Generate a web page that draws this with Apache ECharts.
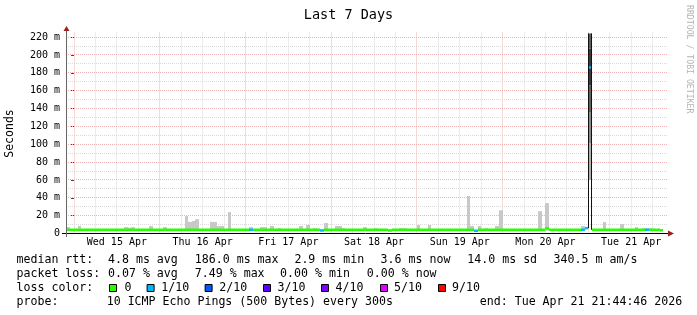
<!DOCTYPE html>
<html><head><meta charset="utf-8">
<script src="https://cdn.jsdelivr.net/npm/echarts@6/dist/echarts.min.js"></script>
<style>html,body{margin:0;padding:0;background:#fff}#c{width:697px;height:315px}</style>
</head><body><div id="c"></div>
<script>
// ---- data (hours are relative to Wed 15 Apr 00:00) ----
var dayLabels = ['Wed 15 Apr','Thu 16 Apr','Fri 17 Apr','Sat 18 Apr','Sun 19 Apr','Mon 20 Apr','Tue 21 Apr'];
var dayLabelHours = [12,36,60,84,108,132,156];
var yTickValues = [0,20,40,60,80,100,120,140,160,180,200,220];
var dayLines = [0,24,48,72,96,120,144];
var sixHourLines = [6,12,18,30,36,42,54,60,66,78,84,90,102,108,114,126,132,138,150,156,162];
var yMajorLines = [20,40,60,80,100,120,140,160,180,200,220];
var yMinorLines = [10,30,50,70,90,110,130,150,170,190,210];
var firstHour = -2;
// median rtt (ms), one value per hour from Tue 14 22:00 to Tue 21 20:00
var medianRtt = [
  4.2,4.2,
  4.2,4.2,4.2,4.2,4.2,4.2, 4.2,4.2,4.2,4.2,4.2,4.2, 4.2,4.2,4.2,4.2,4.2,4.2, 4.2,4.2,4.2,4.2,4.2,4.2,
  4.2,4.2,4.2,4.2,4.2,4.2, 4.2,4.2,4.2,4.2,4.2,4.2, 4.2,4.2,4.2,4.2,4.2,4.2, 4.2,4.2,4.2,4.2,4.2,4.2,
  4.2,4.2,4.2,4.2,4.2,4.2, 4.2,4.2,4.2,4.2,4.2,4.2, 4.2,4.2,4.2,4.2,4.2,4.2, 4.2,4.2,4.2,3.4,4.2,4.2,
  4.2,4.2,4.2,4.2,4.2,4.2, 4.2,4.2,4.2,4.2,4.2,4.2, 4.2,4.2,4.2,4.2,3.4,4.2, 4.2,4.2,4.2,4.2,4.2,4.2,
  4.2,4.2,4.2,4.2,4.2,4.2, 4.2,4.2,4.2,4.2,4.2,4.2, 4.2,4.2,4.2,4.2,3.0,4.2, 4.2,4.2,4.2,4.2,4.2,4.2,
  4.2,4.2,4.2,4.2,4.2,4.2, 4.2,4.2,4.2,4.2,4.2,4.2, 5.8,4.2,4.2,4.2,4.2,4.2, 4.2,4.2,4.2,4.2,4.2,6.0,
  186.0,4.2,4.2,4.2,4.2,4.2, 4.2,4.2,4.2,4.2,4.2,4.2, 4.2,4.2,4.2,4.2,4.2,4.2, 4.2,4.2,3.6
];
// packet loss per hour, in tenths
var lossTenths = [
  0,0,
  0,0,0,0,0,0, 0,0,0,0,0,0, 0,0,0,0,0,0, 0,0,0,0,0,0,
  0,0,0,0,0,0, 0,0,0,0,0,0, 0,0,0,0,0,0, 0,0,0,0,0,0,
  0,1,0,0,0,0, 0,0,0,0,0,0, 0,0,0,0,0,0, 0,0,0,1,0,0,
  0,0,0,0,0,0, 0,0,0,0,0,0, 0,0,0,0,0,0, 0,0,0,0,0,0,
  0,0,0,0,0,0, 0,0,0,0,0,0, 0,0,0,0,1,0, 0,0,0,0,0,0,
  0,0,0,0,0,0, 0,0,0,0,0,0, 0,0,0,0,0,0, 0,0,0,0,1,1,
  1,0,0,0,0,0, 0,0,0,0,0,0, 0,0,0,0,1,0, 0,0,0
];
var smokeFloor = 3.0;
var smokeHour = [-2,1,14,15,16,21,25,31,32,33,34,38,39,40,41,43,49,52,53,55,57,63,65,67,70,73,74,75,81,84,91,92,96,99,110,111,113,115,118,119,130,132,142,148,153,157,159,160,161];
var smokeTop  = [7.2,8.4,7.2,6.5,7.2,8.4,7.2,19.5,13,14,16,13,13,8.4,8.4,24,7.2,7.2,7.2,8.4,6,8.4,9.5,6,11.7,8.4,8.4,6,7.2,6,6,6,9.5,9.5,42,8.4,8.4,6,8.4,26,25,34,8.4,12.8,10.6,7.2,6,6,6];
var spikeHour = 144;
var spikeBandLow  = [60,101,136,166,207];
var spikeBandHigh = [101,136,166,207,224];
var lossLevels = [0,1,2,3,4,5,9];
var lossLabels = ['0','1/10','2/10','3/10','4/10','5/10','9/10'];
var statsLine1 = ['median rtt:','4.8 ms avg','186.0 ms max','2.9 ms min','3.6 ms now','14.0 ms sd','340.5 m am/s'];
var statsLine2 = ['packet loss:','0.07 % avg','7.49 % max','0.00 % min','0.00 % now'];
var probeLine = ['probe:','10 ICMP Echo Pings (500 Bytes) every 300s','end: Tue Apr 21 21:44:46 2026'];

// ---- styles ----
var MONO = '"DejaVu Sans Mono", monospace';
var lossColors = ['#26ff00','#00b8ff','#0059ff','#5e00ff','#7e00ff','#dd00ff','#ff0000'];
var spikeColors = ['#b0b0b0','#8a8a8a','#606060','#3a3a3a','#5e5e5e'];
function lossColor(t){ var i = lossLevels.indexOf(t); return lossColors[i < 0 ? 0 : i]; }

var gridData = [];
dayLines.forEach(function(h){ gridData.push(['v', h, 1]); });
sixHourLines.forEach(function(h){ gridData.push(['v', h, 0]); });
yMajorLines.forEach(function(v){ gridData.push(['h', v, 1]); });
yMinorLines.forEach(function(v){ gridData.push(['h', v, 0]); });

var medData = medianRtt.map(function(m, i){ return [firstHour + i, m, lossTenths[i]]; });
var smokeData = smokeHour.map(function(h, i){ return [h, smokeFloor, smokeTop[i]]; });
var spikeData = spikeBandLow.map(function(lo, i){ return [spikeHour, lo, spikeBandHigh[i], i]; });
var spikeEdgeData = [[spikeHour, medianRtt[spikeHour - 1 - firstHour], spikeBandHigh[spikeBandHigh.length-1]],
                     [spikeHour + 1, medianRtt[spikeHour + 1 - firstHour], spikeBandHigh[spikeBandHigh.length-1]]];

var YMAX = 224;
var chart = echarts.init(document.getElementById('c'), null, {renderer:'canvas'});

function txt(x, y, s, extra){
  var st = {text:s, x:0, y:0, font:'11.6px ' + MONO, fill:'#000', align:'left', verticalAlign:'middle', textAlign:'left', textVerticalAlign:'middle'};
  if (extra) for (var k in extra) st[k] = extra[k];
  return {type:'text', x:x, y:y, style:st, silent:true};
}
var graphics = [];
// axes lines and arrows
graphics.push({type:'line', shape:{x1:62, y1:233.5, x2:669, y2:233.5}, style:{stroke:'#000', lineWidth:1}, z:50});
graphics.push({type:'line', shape:{x1:66.5, y1:237, x2:66.5, y2:30}, style:{stroke:'#666', lineWidth:1}, z:50});
graphics.push({type:'polygon', shape:{points:[[63.5,31],[66.5,26],[69.5,31]]}, style:{fill:'#a02020'}, z:51});
graphics.push({type:'polygon', shape:{points:[[668,230.5],[674,233.5],[668,236.5]]}, style:{fill:'#a02020'}, z:51});
// watermark
graphics.push({type:'text', x:689, y:5, rotation:-Math.PI/2, style:{text:'RRDTOOL / TOBI OETIKER', font:'8.2px ' + MONO, fill:'#b4b4b4', align:'left', verticalAlign:'middle', textAlign:'left', textVerticalAlign:'middle'}, silent:true});
// legend text
var l1x = [16.5,108,194.8,294.4,380.6,467.3,553.6];
statsLine1.forEach(function(s,i){ graphics.push(txt(l1x[i], 259.5, s)); });
var l2x = [16.5,108,194.8,280.1,366.8];
statsLine2.forEach(function(s,i){ graphics.push(txt(l2x[i], 273.8, s)); });
graphics.push(txt(16.5, 288, 'loss color:'));
var boxX = [109,146.6,204.6,263,321,380,438];
var labX = [124.5,161.2,219.3,277.5,335.5,394,452.1];
lossLabels.forEach(function(s,i){
  graphics.push({type:'rect', shape:{x:boxX[i]+0.5, y:284.5, width:7, height:7}, style:{fill:lossColors[i], stroke:'#000', lineWidth:1}, silent:true});
  graphics.push(txt(labX[i], 288, s));
});
var l4x = [16.5,106.7,479.8];
probeLine.forEach(function(s,i){ graphics.push(txt(l4x[i], 302, s)); });

chart.setOption({
  animation:false,
  backgroundColor:'#fff',
  title:{text:'Last 7 Days', left:'center', top:3, textStyle:{fontFamily:MONO, fontSize:13.5, fontWeight:'normal', color:'#000'}},
  grid:{left:66, top:33.5, width:600, height:200, containLabel:false, outerBoundsMode:'none'},
  xAxis:{type:'value', min:-2.25, max:165.75,
    axisLine:{show:false}, axisTick:{show:false}, splitLine:{show:false},
    axisLabel:{customValues:dayLabelHours, margin:4, fontFamily:MONO, fontSize:10, color:'#000',
      formatter:function(v){ var i = dayLabelHours.indexOf(v); return i >= 0 ? dayLabels[i] : ''; }}},
  yAxis:{type:'value', min:0, max:YMAX, interval:20,
    name:'Seconds', nameLocation:'middle', nameGap:50, nameRotate:90,
    nameTextStyle:{fontFamily:MONO, fontSize:11.5, color:'#000'},
    axisLine:{show:false},
    axisTick:{show:true, customValues:yTickValues, length:3, lineStyle:{color:'#444'}},
    splitLine:{show:false},
    axisLabel:{customValues:yTickValues, showMaxLabel:true, margin:6, fontFamily:MONO, fontSize:10, color:'#000',
      formatter:function(v){ if (v % 20 !== 0) return ''; return v === 0 ? '0' : v + ' m'; }}},
  graphic:graphics,
  series:[
    {type:'custom', name:'grid', z:1, silent:true, data:gridData, clip:false,
      renderItem:function(params, api){
        var kind = gridData[params.dataIndex][0];
        var v = api.value(1), major = api.value(2) === 1;
        var stroke = major ? '#eeb4b4' : '#dadada';
        if (kind === 'v') {
          var a = api.coord([v, 0]), b = api.coord([v, YMAX]);
          var x = Math.floor(a[0]) + 0.5;
          return {type:'line', shape:{x1:x, y1:a[1], x2:x, y2:b[1] - 1.5}, style:{stroke:stroke, lineWidth:1, lineDash:[1,1]}};
        } else {
          var c = api.coord([-2.25, v]), d = api.coord([165.75, v]);
          var y = Math.floor(c[1]) + 0.5;
          return {type:'line', shape:{x1:c[0], y1:y, x2:d[0]+2, y2:y}, style:{stroke:stroke, lineWidth:1, lineDash:[1,1]}};
        }
      }},
    {type:'custom', name:'smoke', z:2, silent:true, data:smokeData,
      renderItem:function(params, api){
        var h = api.value(0);
        var p0 = api.coord([h, api.value(1)]), p1 = api.coord([h + 1, api.value(2)]);
        var x0 = Math.round(p0[0]), x1 = Math.round(p1[0]);
        return {type:'rect', shape:{x:x0, y:p1[1], width:x1 - x0, height:p0[1] - p1[1]}, style:{fill:'#c8c8c8'}};
      }},
    {type:'custom', name:'spike', z:3, silent:true, data:spikeData,
      renderItem:function(params, api){
        var h = api.value(0);
        var p0 = api.coord([h, api.value(1)]), p1 = api.coord([h + 1, api.value(2)]);
        var x0 = Math.round(p0[0]), x1 = Math.round(p1[0]);
        return {type:'rect', shape:{x:x0, y:p1[1], width:x1 - x0, height:p0[1] - p1[1]}, style:{fill:spikeColors[api.value(3)]}};
      }},
    {type:'custom', name:'median', z:4, silent:true, data:medData,
      renderItem:function(params, api){
        var h = api.value(0);
        var p0 = api.coord([h, api.value(1)]), p1 = api.coord([h + 1, api.value(1)]);
        var x0 = Math.round(p0[0]), x1 = Math.round(p1[0]);
        return {type:'rect', shape:{x:x0, y:p0[1] - 1.25, width:x1 - x0, height:2.5}, style:{fill:lossColor(api.value(2))}};
      }},
    {type:'custom', name:'spikeEdges', z:5, silent:true, data:spikeEdgeData,
      renderItem:function(params, api){
        var a = api.coord([api.value(0), api.value(1)]), b = api.coord([api.value(0), api.value(2)]);
        var x = Math.round(a[0]) + (params.dataIndex === 0 ? 0.5 : -0.5);
        return {type:'line', shape:{x1:x, y1:a[1], x2:x, y2:b[1]}, style:{stroke:'#111', lineWidth:1}};
      }}
  ]
});
</script></body></html>
